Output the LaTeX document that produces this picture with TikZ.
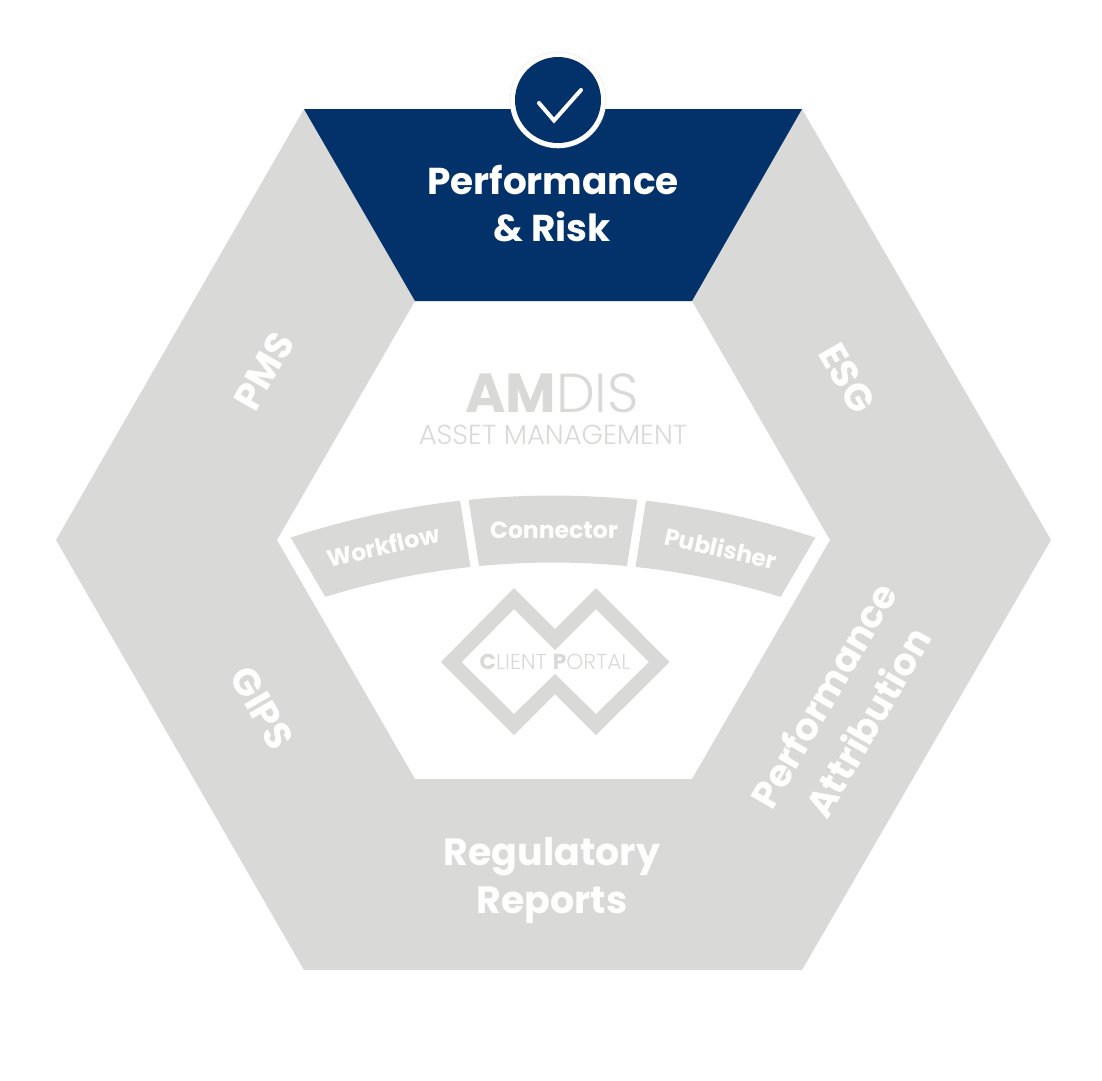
\documentclass[tikz,border=0pt]{standalone}
\usepackage{fontspec}
\setmainfont{Poppins}[UprightFont=* Bold,BoldFont=* Bold]
\newfontfamily\poplight{Poppins}[UprightFont=* Light,BoldFont=* Bold]
\definecolor{navy}{HTML}{03326A}
\definecolor{greyseg}{HTML}{D9D9D7}
\newcommand{\fs}[1]{\fontsize{#1}{#1}\selectfont}
\newcommand{\arcseg}[4]{% outer from, outer to, inner to, inner from
  \fill[greyseg] plot[domain=#1:#2,samples=24] ({553+840*sin(\x)},{1335.5-840*cos(\x)})
    -- plot[domain=#3:#4,samples=24] ({553+773*sin(\x)},{1335.5-773*cos(\x)}) -- cycle;}
\tikzset{
  seglabel/.style={text=white,inner sep=0pt,align=center},
  logotext/.style={text=greyseg,inner sep=0pt,font=\poplight},
}
\begin{document}
\begin{tikzpicture}[x=1pt,y=-1pt]
\useasboundingbox (0,0) rectangle (1102,1080);
% hexagon ring
\fill[greyseg,even odd rule]
  (304,109) -- (802,109) -- (1051,540) -- (802,970) -- (304,970) -- (56,540) -- cycle
  (415,301) -- (692,301) -- (830,540) -- (692,779) -- (415,779) -- (277,540) -- cycle;
% active segment
\fill[navy] (304,109) -- (802,109) -- (692,301) -- (415,301) -- cycle;
% badge
\fill[greyseg!50] (558,100) circle[radius=48.3];
\fill[white] (558,100) circle[radius=47.6];
\fill[navy] (558,100) circle[radius=43];
\coordinate (c1) at (539,103);
\coordinate (c2) at (554,120.5);
\coordinate (c3) at (581,90);
\draw[white,line width=4pt,line cap=round,line join=miter] (c1) -- (c2) -- (c3);
% arc segments
\arcseg{-18.2}{-6.35}{-6.13}{-17.13}
\arcseg{-5.77}{5.77}{5.49}{-5.49}
\arcseg{6.35}{18.2}{17.13}{6.13}
% client portal mark
\fill[greyseg,even odd rule]
  (441,662) -- (514,588) -- (555,629) -- (596,588) -- (669.6,662) -- (596,735) -- (555,694) -- (514,735) -- cycle
  (461.6,662) -- (514,609) -- (555,650) -- (596,609) -- (649,662) -- (596,714) -- (555,674) -- (514,714) -- cycle;
% labels
\node[seglabel,font=\fs{37.4}] (perf) at (553,180) {Performance};
\node[seglabel,font=\fs{37.4}] (risk) at (552,227) {\& Risk};
\node[seglabel,font=\fs{38}] (reg) at (552,857) {Regulatory};
\node[seglabel,font=\fs{38}] (rep) at (552,905) {Reports};
\node[seglabel,font=\fs{38},rotate=60] (pms) at (264,371) {PMS};
\node[seglabel,font=\fs{38},rotate=-60] (esg) at (847,378) {ESG};
\node[seglabel,font=\fs{38},rotate=-60] (gips) at (262,708) {GIPS};
\node[seglabel,font=\fs{37.5},rotate=60] (pa1) at (823,695) {Performance};
\node[seglabel,font=\fs{37.5},rotate=60] (pa2) at (867,722) {Attribution};
\node[seglabel,font=\fs{23.5},rotate=13] (wf) at (383,546) {Workflow};
\node[seglabel,font=\fs{23.5}] (cn) at (554,530) {Connector};
\node[seglabel,font=\fs{23.5},rotate=-13] (pb) at (721,548) {Publisher};
\node[logotext,font=\poplight\fs{55}] (amdis) at (552,393) {\textbf{AM}DIS};
\node[logotext,font=\poplight\fs{27.5}] (am) at (553,435) {ASSET MANAGEMENT};
\node[logotext,font=\poplight\fs{21.6}] (cp) at (555,662) {\textbf{C}LIENT \textbf{P}ORTAL};
\end{tikzpicture}
\end{document}
